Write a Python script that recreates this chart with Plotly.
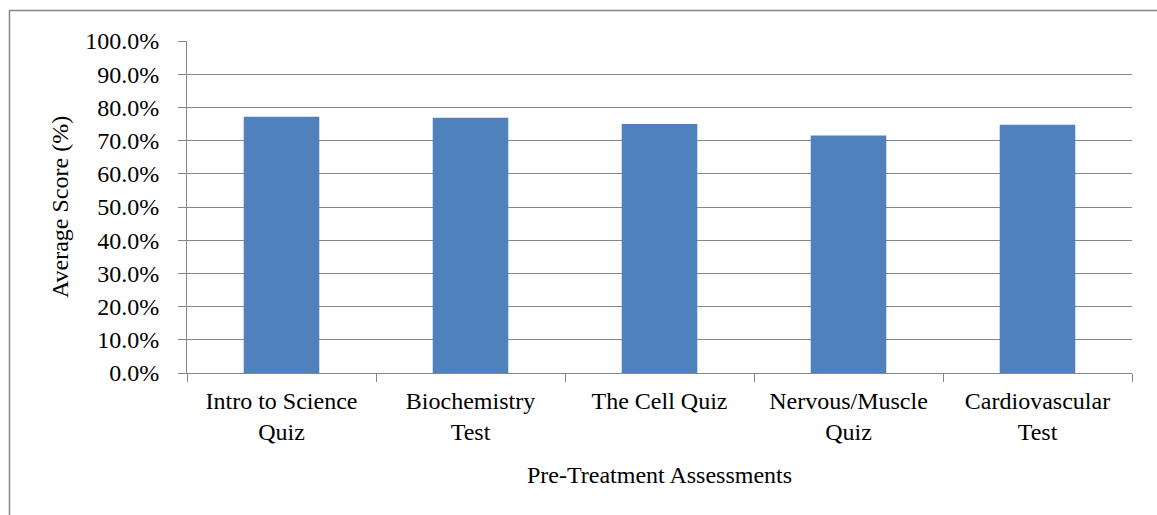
import plotly.graph_objects as go

categories = ["Intro to Science<br>Quiz", "Biochemistry<br>Test", "The Cell Quiz",
              "Nervous/Muscle<br>Quiz", "Cardiovascular<br>Test"]
scores = [77.2, 76.9, 75.0, 71.5, 74.8]
x_title = "Pre-Treatment Assessments"
y_title = "Average Score (%)"

W, H = 1157, 515
ML, MR, MT, MB = 187, 25, 41, 142
pw = W - ML - MR
ph = H - MT - MB

font = dict(family="Liberation Serif, Times New Roman, serif", size=24, color="black")
grey = "#868686"

fig = go.Figure(go.Bar(
    x=categories, y=scores,
    marker=dict(color="#4F81BD", line=dict(width=0)),
    width=0.4,
))

fig.update_layout(
    width=W, height=H,
    margin=dict(l=ML, r=MR, t=MT, b=MB, pad=0),
    paper_bgcolor="white", plot_bgcolor="white",
    font=font,
    showlegend=False,
    bargap=0.6,
    xaxis=dict(
        type="category",
        tickson="boundaries",
        ticks="outside", ticklen=8, tickcolor=grey, tickwidth=1,
        showline=True, linecolor=grey, linewidth=1,
        showgrid=False,
        tickfont=font,
        ticklabelstandoff=6,
    ),
    yaxis=dict(
        range=[0, 100], dtick=10, tick0=0,
        tickformat=".1f", ticksuffix="%",
        ticks="outside", ticklen=8, tickcolor=grey, tickwidth=1,
        showline=True, linecolor=grey, linewidth=1,
        showgrid=True, gridcolor=grey, gridwidth=1.2,
        zeroline=False,
        tickfont=font,
        ticklabelstandoff=14,
    ),
    annotations=[
        dict(text=x_title, xref="paper", yref="paper", x=0.5, y=(MT + ph - 475) / ph,
             xanchor="center", yanchor="middle", showarrow=False, font=font),
        dict(text=y_title, xref="paper", yref="paper", x=(60 - ML) / pw, y=0.5,
             xanchor="center", yanchor="middle", textangle=-90, showarrow=False, font=font),
    ],
    shapes=[dict(
        type="rect", xref="paper", yref="paper",
        x0=(9.5 - ML) / pw, x1=1.2,
        y0=-1.0, y1=1 + (MT - 10.5) / ph,
        line=dict(color=grey, width=1.5), fillcolor="rgba(0,0,0,0)",
        layer="below",
    )],
)

fig.write_html("out.html", config={"displayModeBar": False},
               post_script="document.body.style.margin='0';document.body.style.overflow='hidden';")
